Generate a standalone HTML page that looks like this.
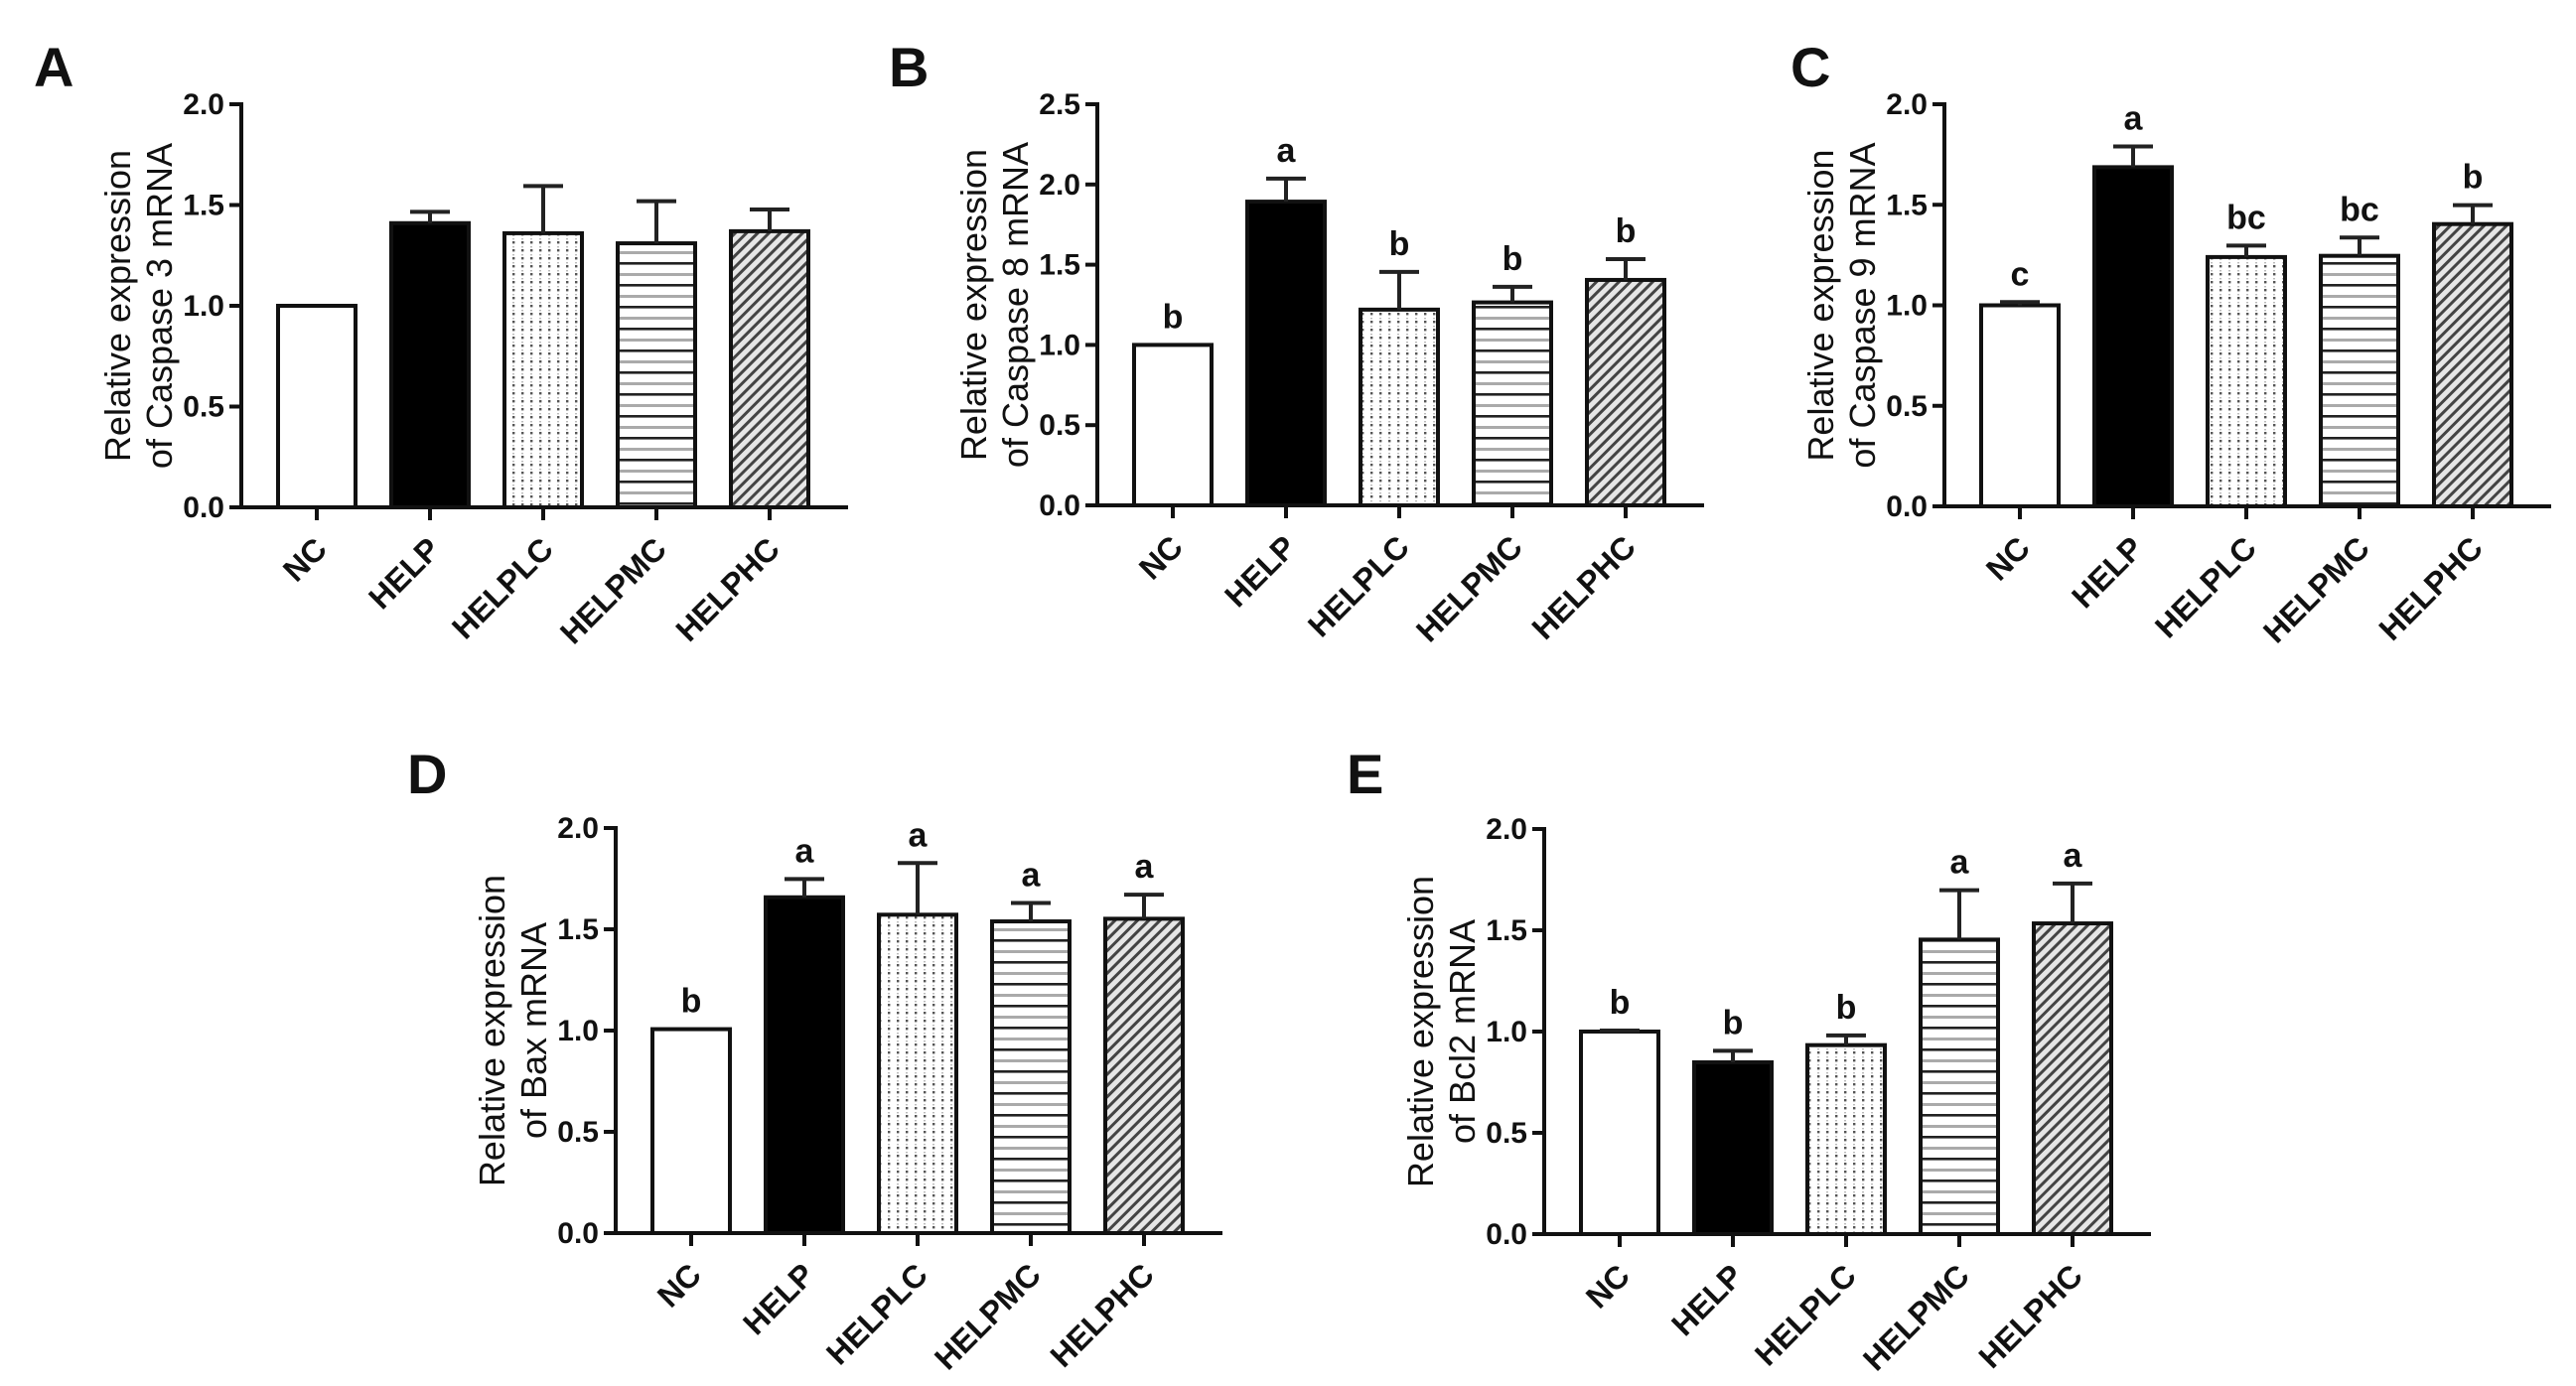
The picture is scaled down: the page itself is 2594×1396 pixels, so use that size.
<!DOCTYPE html>
<html><head><meta charset="utf-8"><style>
html,body{margin:0;padding:0;background:#fff;}
svg{display:block;}
text{font-family:"Liberation Sans",Arial,sans-serif;fill:#111;}
</style></head>
<body>
<svg id="fig" width="2594" height="1396" viewBox="0 0 2594 1396" xmlns="http://www.w3.org/2000/svg">
<defs>
<pattern id="pDots" width="9" height="8" patternUnits="userSpaceOnUse">
<rect width="9" height="8" fill="#fff"/><rect x="3" y="3" width="2.4" height="2.4" fill="#555"/><rect x="3" y="0" width="2" height="1.4" fill="#bbb"/>
</pattern>
<pattern id="pHoriz" width="10" height="22" patternUnits="userSpaceOnUse">
<rect width="10" height="22" fill="#fff"/><rect y="0" width="10" height="2.6" fill="#222"/><rect y="11" width="10" height="3" fill="#aaa"/>
</pattern>
<pattern id="pDiag" width="8" height="8" patternUnits="userSpaceOnUse" patternTransform="rotate(45)">
<rect width="8" height="8" fill="#e6e6e6"/><rect x="0" y="0" width="3" height="8" fill="#444"/>
</pattern>
</defs>
</svg>
<script>
const categories = ["NC","HELP","HELPLC","HELPMC","HELPHC"];

const casp3Means = [1.0, 1.41, 1.36, 1.31, 1.37];
const casp3Errors = [0, 0.056, 0.234, 0.209, 0.108];
const casp3Letters = ["", "", "", "", ""];

const casp8Means = [1.0, 1.893, 1.22, 1.265, 1.405];
const casp8Errors = [0, 0.144, 0.235, 0.097, 0.13];
const casp8Letters = ["b", "a", "b", "b", "b"];

const casp9Means = [1.0, 1.687, 1.24, 1.246, 1.404];
const casp9Errors = [0.016, 0.103, 0.057, 0.091, 0.094];
const casp9Letters = ["c", "a", "bc", "bc", "b"];

const baxMeans = [1.007, 1.658, 1.572, 1.539, 1.552];
const baxErrors = [0, 0.09, 0.255, 0.091, 0.119];
const baxLetters = ["b", "a", "a", "a", "a"];

const bcl2Means = [1.0, 0.848, 0.933, 1.454, 1.534];
const bcl2Errors = [0.005, 0.057, 0.048, 0.244, 0.197];
const bcl2Letters = ["b", "b", "b", "a", "a"];

const ticks2 = [0, 0.5, 1.0, 1.5, 2.0];
const ticks2Labels = ["0.0", "0.5", "1.0", "1.5", "2.0"];
const ticks25 = [0, 0.5, 1.0, 1.5, 2.0, 2.5];
const ticks25Labels = ["0.0", "0.5", "1.0", "1.5", "2.0", "2.5"];

const fills = ["#fff", "#000", "url(#pDots)", "url(#pHoriz)", "url(#pDiag)"];
const NS = "http://www.w3.org/2000/svg";
const svg = document.getElementById("fig");

function mk(tag, attrs, parent) {
  const e = document.createElementNS(NS, tag);
  for (const k in attrs) e.setAttribute(k, attrs[k]);
  parent.appendChild(e);
  return e;
}

function drawPanel(p, means, errs, letters, ticks, tickLabels) {
  const g = mk("g", {}, svg);
  
  
  const ymax = ticks[ticks.length - 1];
  const yScale = v => p.y0 - (v / ymax) * (p.y0 - p.yTop);
  const xScale = i => p.axisX + 76 + i * 114;
  const pl = mk("text", {x: p.letterX, y: p.letterY, "font-size": 56, "font-weight": "bold"}, g);
  pl.textContent = p.id.toUpperCase();
  
  
  const midY = (p.y0 + p.yTop) / 2;
  const t1 = mk("text", {x: 0, y: 0, "font-size": 36, "font-weight": 500, "text-anchor": "middle", transform: "translate(" + (p.axisX - 112) + "," + midY + ") rotate(-90)"}, g);
  t1.textContent = "Relative expression";
  
  
  const t2 = mk("text", {x: 0, y: 0, "font-size": 36, "font-weight": 500, "text-anchor": "middle", transform: "translate(" + (p.axisX - 70) + "," + midY + ") rotate(-90)"}, g);
  t2.textContent = p.title2;
  
  
  for (let i = 0; i < means.length; i++) {
    const cx = xScale(i);
    const yt = yScale(means[i]);
    const r = mk("rect", {x: cx - 39, y: yt, width: 78, height: p.y0 - yt, fill: fills[i], stroke: "#111", "stroke-width": 4}, g);
    
    
    let topY = yt;
    if (errs[i] > 0) {
      const ye = yScale(means[i] + errs[i]);
      topY = ye;
      const el = mk("path", {d: "M" + cx + " " + yt + " V" + ye + " M" + (cx - 20) + " " + ye + " H" + (cx + 20), stroke: "#222", "stroke-width": 4, fill: "none"}, g);
      
      
    }
    if (letters[i]) {
      const lt = mk("text", {x: cx, y: topY - 17, "font-size": 34, "font-weight": "bold", "text-anchor": "middle"}, g);
      lt.textContent = letters[i];
      
      
    }
    mk("line", {x1: cx, y1: p.y0, x2: cx, y2: p.y0 + 13, stroke: "#111", "stroke-width": 4}, g);
    const xl = mk("text", {x: 0, y: 0, "font-size": 32, "font-weight": "bold", "text-anchor": "end", transform: "translate(" + (cx + 12) + "," + (p.y0 + 44) + ") rotate(-45)"}, g);
    xl.textContent = categories[i];
    
    
  }
  const ya = mk("line", {x1: p.axisX, y1: p.yTop - 2, x2: p.axisX, y2: p.y0, stroke: "#111", "stroke-width": 4}, g);
  
  
  const xa = mk("line", {x1: p.axisX - 12, y1: p.y0, x2: xScale(4) + 79, y2: p.y0, stroke: "#111", "stroke-width": 4}, g);
  
  
  for (let k = 0; k < ticks.length; k++) {
    const y = yScale(ticks[k]);
    mk("line", {x1: p.axisX - 12, y1: y, x2: p.axisX, y2: y, stroke: "#111", "stroke-width": 4}, g);
    const tl = mk("text", {x: p.axisX - 17, y: y + 10, "font-size": 30, "font-weight": "bold", "text-anchor": "end"}, g);
    tl.textContent = tickLabels[k];
    
    
  }
}

drawPanel({id: "a", axisX: 243, yTop: 105, y0: 511, letterX: 34, letterY: 87, title2: "of Caspase 3 mRNA"}, casp3Means, casp3Errors, casp3Letters, ticks2, ticks2Labels);
drawPanel({id: "b", axisX: 1105, yTop: 105, y0: 509, letterX: 895, letterY: 87, title2: "of Caspase 8 mRNA"}, casp8Means, casp8Errors, casp8Letters, ticks25, ticks25Labels);
drawPanel({id: "c", axisX: 1958, yTop: 105, y0: 510, letterX: 1803, letterY: 87, title2: "of Caspase 9 mRNA"}, casp9Means, casp9Errors, casp9Letters, ticks2, ticks2Labels);
drawPanel({id: "d", axisX: 620, yTop: 834, y0: 1242, letterX: 410, letterY: 799, title2: "of Bax mRNA"}, baxMeans, baxErrors, baxLetters, ticks2, ticks2Labels);
drawPanel({id: "e", axisX: 1555, yTop: 835, y0: 1243, letterX: 1356, letterY: 799, title2: "of Bcl2 mRNA"}, bcl2Means, bcl2Errors, bcl2Letters, ticks2, ticks2Labels);
</script>
</body></html>
